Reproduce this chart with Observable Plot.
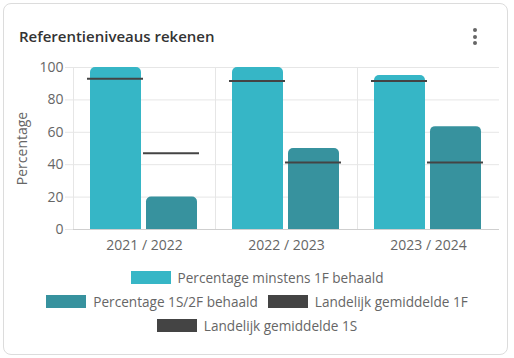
<!DOCTYPE html>
<html>
<head>
<meta charset="utf-8">
<script src="https://cdn.jsdelivr.net/npm/d3@7"></script>
<script src="https://cdn.jsdelivr.net/npm/@observablehq/plot@0.6"></script>
<style>
  html, body { margin: 0; padding: 0; background: #fff; }
  body { width: 514px; height: 358px; position: relative; overflow: hidden; font-family: "Open Sans", sans-serif; }
  .card { position: absolute; left: 3px; top: 3px; border: 1px solid #dcdcdc; border-radius: 8px; box-sizing: border-box; width: 505px; height: 352px; }
  .title { position: absolute; left: 19px; top: 26px; font-size: 15px; font-weight: 600; color: #333; }
  .menu { position: absolute; left: 473px; top: 28px; width: 4px; }
  .menu span { display: block; width: 4px; height: 4px; border-radius: 2px; background: #666; margin-bottom: 2.5px; }
  #chart { position: absolute; left: 0; top: 50px; }
  .legend { position: absolute; left: 0; top: 265px; width: 514px; font-size: 13.6px; color: #666; }
  .row { display: flex; justify-content: center; align-items: center; height: 24px; }
  .item { display: flex; align-items: center; margin: 0 5px; }
  .sw { width: 40px; height: 13px; margin-right: 7px; }
</style>
</head>
<body>
<div class="card"></div>
<div class="title">Referentieniveaus rekenen</div>
<div class="menu"><span></span><span></span><span></span></div>
<div id="chart"></div>
<div class="legend" id="legend"></div>
<script>
const years = ["2021 / 2022", "2022 / 2023", "2023 / 2024"];
const pct1F = [100, 100, 95];
const pct1S2F = [20, 50, 63.5];
const avg1F = [93, 91.6, 91.6];
const avg1S = [47, 41.4, 41.4];
const seriesKeys = ["1F", "1S"];
const seriesLabels = ["Percentage minstens 1F behaald", "Percentage 1S/2F behaald", "Landelijk gemiddelde 1F", "Landelijk gemiddelde 1S"];
const seriesColors = ["#36b6c6", "#37929e", "#444444", "#444444"];
const yTicks = [0, 20, 40, 60, 80, 100];
const legendRows = [[0], [1, 2], [3]];

const bars = years.flatMap((y, i) => [
  {year: y, series: "1F", value: pct1F[i]},
  {year: y, series: "1S", value: pct1S2F[i]}
]);
const avgs = years.flatMap((y, i) => [
  {year: y, series: "1F", value: avg1F[i]},
  {year: y, series: "1S", value: avg1S[i]}
]);

const chart = Plot.plot({
  width: 514,
  height: 205,
  marginTop: 17,
  marginBottom: 26,
  marginLeft: 73,
  marginRight: 15,
  style: {fontFamily: "Open Sans, sans-serif", fontSize: "14px", color: "#666", background: "transparent"},
  fx: {domain: years, padding: 0, label: null},
  x: {domain: seriesKeys, paddingInner: 5 / 57, paddingOuter: 17 / 57, axis: null},
  y: {domain: [0, 100]},
  color: {domain: seriesKeys, range: seriesColors.slice(0, 2)},
  marks: [
    Plot.gridY(yTicks, {stroke: "#e6e6e6", strokeOpacity: 1}),
    Plot.frame({anchor: "left", stroke: "#e6e6e6", strokeOpacity: 1}),
    Plot.barY(bars, {fx: "year", x: "series", y: "value", fill: "series", rx1y1: 5, rx2y1: 5}),
    Plot.tickY(avgs, {fx: "year", x: "series", y: "value", stroke: "#444", strokeWidth: 2, insetLeft: -3, insetRight: -2}),
    Plot.ruleY([0], {stroke: "#cfcfcf"}),
    Plot.axisY({ticks: yTicks, tickSize: 8, tickPadding: 2, stroke: "#e6e6e6", strokeOpacity: 1, fill: "#666", label: "Percentage", labelAnchor: "center", labelArrow: "none", labelOffset: 56}),
    Plot.axisFx({anchor: "bottom", tickSize: 0, tickPadding: 11, fill: "#666", label: null})
  ]
});
document.getElementById("chart").appendChild(chart);

const legend = document.getElementById("legend");
for (const row of legendRows) {
  const r = document.createElement("div");
  r.className = "row";
  for (const k of row) {
    const it = document.createElement("div");
    it.className = "item";
    const sw = document.createElement("div");
    sw.className = "sw";
    sw.style.background = seriesColors[k];
    const t = document.createElement("span");
    t.textContent = seriesLabels[k];
    it.appendChild(sw);
    it.appendChild(t);
    r.appendChild(it);
  }
  legend.appendChild(r);
}
</script>
</body>
</html>
